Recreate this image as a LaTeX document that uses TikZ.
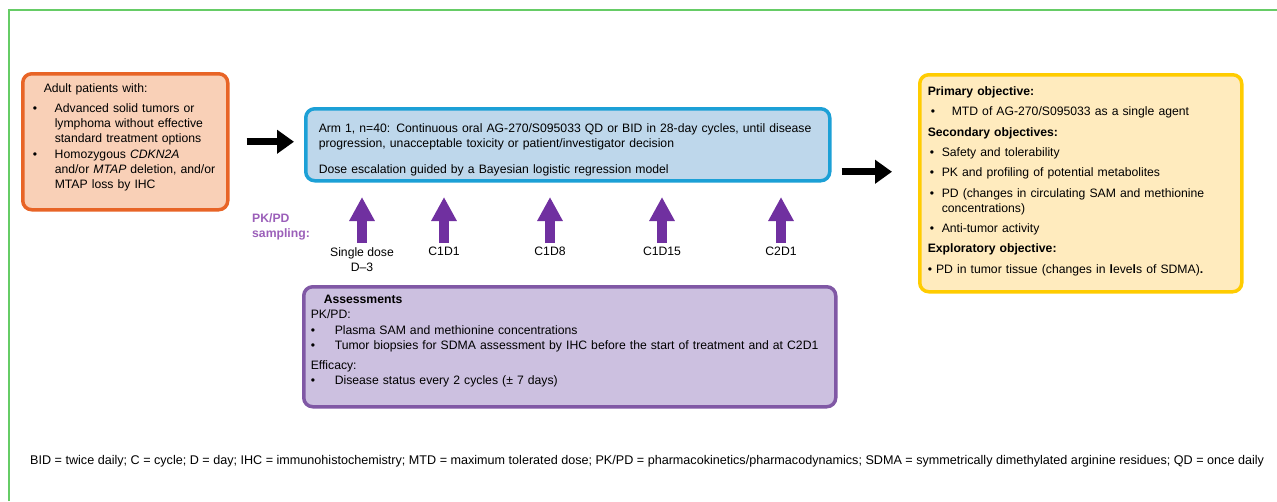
\documentclass[tikz,border=0pt]{standalone}
\usepackage{fontspec}
\setmainfont{Liberation Sans}
\usetikzlibrary{arrows.meta,positioning}

\definecolor{slidegreen}{RGB}{102,204,102}
\definecolor{patedge}{RGB}{232,100,38}
\definecolor{patfill}{RGB}{249,208,183}
\definecolor{armedge}{RGB}{28,160,214}
\definecolor{armfill}{RGB}{190,215,235}
\definecolor{objedge}{RGB}{255,204,0}
\definecolor{objfill}{RGB}{255,235,190}
\definecolor{assedge}{RGB}{128,88,165}
\definecolor{assfill}{RGB}{204,192,224}
\definecolor{samplepurple}{RGB}{112,48,160}
\definecolor{samplelabel}{RGB}{155,95,185}

\newcommand{\fs}{\fontsize{12.2}{15.3}\selectfont}
\newcommand{\bul}[1]{\makebox[#1][l]{\textbullet}}
\newcommand{\lift}[1]{\rule[-#1]{0pt}{#1}}
\newcommand{\drop}[1]{\rule{0pt}{#1}}

\begin{document}
\begin{tikzpicture}[
  x=1pt, y=-1pt,
  box/.style={draw, rounded corners=9pt, line width=3.5pt, anchor=north west, align=left, inner ysep=0pt, font=\fs},
  fatarrow/.style={-{Triangle[length=17pt,width=23pt]}, line width=7pt},
  samplearrow/.style={-{Triangle[length=24pt,width=24pt]}, line width=10pt, draw=samplepurple},
  visit/.style={align=center, anchor=north, font=\fs, inner sep=0pt}
]

\useasboundingbox (0,0) rectangle (1277,501);
\draw[slidegreen, line width=1.5pt] (9,501) -- (9,10) -- (1277,10);

\node[box, draw=patedge, fill=patfill, minimum width=205pt, minimum height=136pt, inner xsep=10pt, text width=185pt] (patients) at (21,72)
  {\hspace*{11pt}Adult patients with:\\[5pt]
   \bul{22pt}Advanced solid tumors or\\
   \hspace*{22pt}\mbox{lymphoma without effective}\\
   \hspace*{22pt}\mbox{standard treatment options}\\
   \bul{22pt}Homozygous \textit{CDKN2A}\\
   \hspace*{22pt}\mbox{and/or \textit{MTAP} deletion, and/or}\\
   \hspace*{22pt}MTAP loss by IHC\lift{11.5pt}};

\node[box, draw=armedge, fill=armfill, minimum width=524pt, minimum height=72pt, inner xsep=13pt, text width=498pt] (arm) at (304,107)
  {\drop{19pt}\mbox{Arm 1, n=40: Continuous oral AG-270/S095033 QD or BID in 28-day cycles, until disease}\\
   progression, unacceptable toxicity or patient/investigator decision\\[11pt]
   Dose escalation guided by a Bayesian logistic regression model};

\node[box, draw=objedge, fill=objfill, minimum width=322pt, minimum height=217pt, inner xsep=8pt, text width=306pt] (objectives) at (918,73)
  {\textbf{Primary objective:}\\[5pt]
   \hspace*{3pt}\bul{21pt}MTD of AG-270/S095033 as a single agent\\[5pt]
   \textbf{Secondary objectives:}\\[5pt]
   \hspace*{2pt}\bul{12pt}Safety and tolerability\\[5pt]
   \hspace*{2pt}\bul{12pt}PK and profiling of potential metabolites\\[5pt]
   \hspace*{2pt}\bul{12pt}PD (changes in circulating SAM and methionine\\
   \hspace*{14pt}concentrations)\\[5pt]
   \hspace*{2pt}\bul{12pt}Anti-tumor activity\\[5pt]
   \textbf{Exploratory objective:}\\[5pt]
   \textbullet{} PD in tumor tissue (changes in \textbf{l}eve\textbf{l}s of SDMA)\textbf{.}\lift{6.6pt}};

\node[box, draw=assedge, fill=assfill, minimum width=532pt, minimum height=120pt, inner xsep=7pt, text width=518pt] (assess) at (302,285)
  {\hspace*{13pt}\textbf{Assessments}\\
   PK/PD:\\
   \bul{24pt}Plasma SAM and methionine concentrations\\
   \bul{24pt}\mbox{Tumor biopsies for SDMA assessment by IHC before the start of treatment and at C2D1}\\[5pt]
   Efficacy:\\
   \bul{24pt}Disease status every 2 cycles (± 7 days)\lift{13.6pt}};

\draw[fatarrow] ([xshift=17pt]patients.east) -- ([xshift=-10pt]patients.east -| arm.west);
\draw[fatarrow] ([shift={(10,27)}]arm.east) -- ([shift={(-26,27)}]arm.east -| objectives.west);

\node[font=\fs\bfseries, text=samplelabel, anchor=west, align=left, inner sep=0pt] (sampling) at (252,227) {PK/PD\\sampling:};

\node[visit] (sd) at (362,247) {Single dose\\D--3};
\node[visit] (c1d1) at (444,247) {C1D1};
\node[visit] (c1d8) at (550,247) {C1D8};
\node[visit] (c1d15) at (662,247) {C1D15};
\node[visit] (c2d1) at (781,247) {C2D1};

\coordinate (tail) at (0,243);
\coordinate (tip) at (0,197);
\foreach \v in {sd,c1d1,c1d8,c1d15,c2d1}
  \draw[samplearrow] (\v |- tail) -- (\v |- tip);

\node[font=\fontsize{12.6}{15}\selectfont, anchor=west, inner sep=0pt] (abbrev) at (30,461)
  {BID = twice daily; C = cycle; D = day; IHC = immunohistochemistry; MTD = maximum tolerated dose; PK/PD = pharmacokinetics/pharmacodynamics; SDMA = symmetrically dimethylated arginine residues; QD = once daily};

\end{tikzpicture}
\end{document}
